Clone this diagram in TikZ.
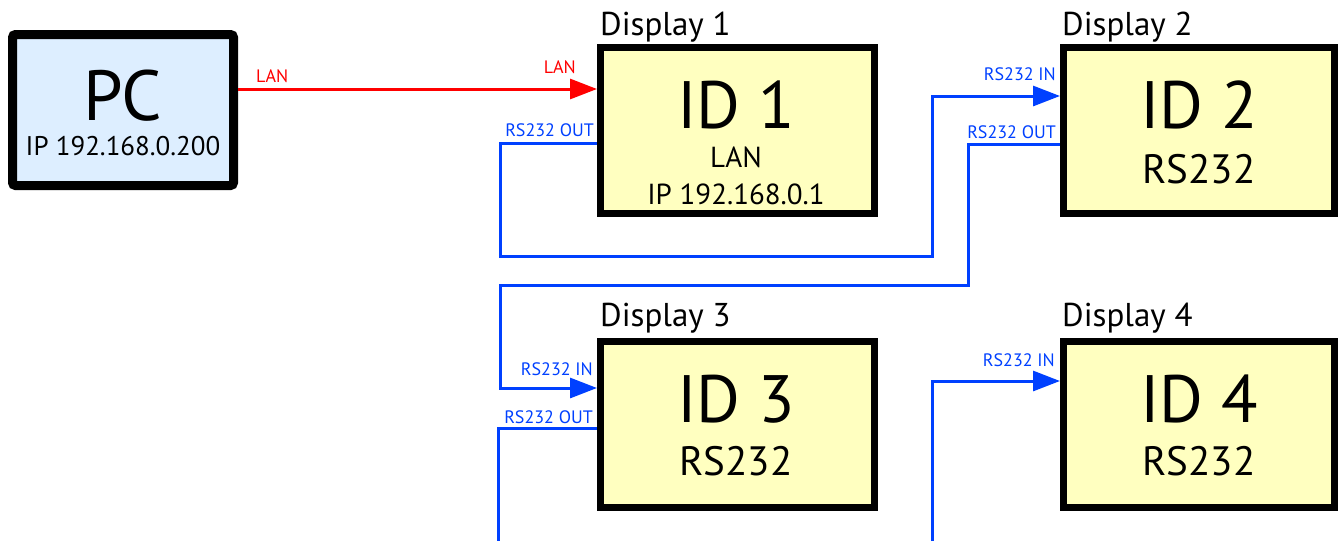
\documentclass[tikz,border=0pt]{standalone}
\usepackage{fontspec}
\setmainfont{PT Sans}
\usepackage{xcolor}
\usetikzlibrary{arrows.meta}
\definecolor{linkblue}{RGB}{0,64,255}
\definecolor{pcfill}{RGB}{221,238,255}
\definecolor{idfill}{RGB}{255,255,192}

\begin{document}
\begin{tikzpicture}[x=1pt, y=-1pt,
    pcbox/.style={draw, line width=9pt, rounded corners=3pt, fill=pcfill,
      minimum width=221pt, minimum height=151pt, inner sep=0pt, outer sep=4.5pt},
    idbox/.style={draw, line width=7pt, fill=idfill,
      minimum height=166pt, inner sep=0pt, outer sep=3.5pt},
    lanline/.style={red, line width=3pt},
    rsline/.style={linkblue, line width=3pt},
    arrowtip/.style={-{Triangle[length=27pt,width=20pt]}},
    bigtext/.style={anchor=base, inner sep=0pt, font=\fontsize{67}{67}\selectfont},
    midtext/.style={anchor=base, inner sep=0pt, font=\fontsize{41}{41}\selectfont},
    smalltext/.style={anchor=base, inner sep=0pt, font=\fontsize{29}{29}\selectfont},
    title/.style={anchor=base west, inner sep=0pt, font=\fontsize{33}{33}\selectfont},
    portlabel/.style={anchor=base east, inner sep=0pt, font=\fontsize{18}{18}\selectfont}]
  \useasboundingbox (0,0) rectangle (1340,541);

  % Boxes
  \node[pcbox] (pc) at (123,110) {};
  \node[idbox, minimum width=274pt] (id1) at (737.5,130.5) {};
  \node[idbox, minimum width=271pt] (id2) at (1199,130.5) {};
  \node[idbox, minimum width=274pt] (id3) at (737.5,424.5) {};
  \node[idbox, minimum width=271pt] (id4) at (1199,424) {};

  % Box texts
  \node[bigtext, font=\fontsize{71}{71}\selectfont] (pcname) at (123,120) {PC};
  \node[smalltext, font=\fontsize{27}{27}\selectfont] (pcip) at (123,155) {IP 192.168.0.200};
  \node[bigtext] (id1name) at (736,128) {ID 1};
  \node[smalltext] (id1mode) at (736,167) {LAN};
  \node[smalltext] (id1ip) at (736,204) {IP 192.168.0.1};
  \node[bigtext] (id2name) at (1199,128) {ID 2};
  \node[midtext] (id2mode) at (1199,183) {RS232};
  \node[bigtext] (id3name) at (736,422) {ID 3};
  \node[midtext] (id3mode) at (736,475) {RS232};
  \node[bigtext] (id4name) at (1199,422) {ID 4};
  \node[midtext] (id4mode) at (1199,475) {RS232};

  % Titles
  \node[title] (disp1) at (600,35) {Display 1};
  \node[title] (disp2) at (1062,35) {Display 2};
  \node[title] (disp3) at (600,326) {Display 3};
  \node[title] (disp4) at (1062,326) {Display 4};

  % LAN link
  \draw[lanline, arrowtip] ([yshift=21pt]pc.east) -- ([yshift=41.5pt]id1.west);
  \node[portlabel, anchor=base west, text=red] (lanout) at (256,82) {LAN};
  \node[portlabel, text=red] (lanin) at (576,73) {LAN};

  % RS232 chain
  \draw[rsline, arrowtip] ([yshift=-12.5pt]id1.west) -| (500,256) -| (932,96)
    -- ([yshift=34.5pt]id2.west);
  \draw[rsline, arrowtip] ([yshift=-13.5pt]id2.west) -| (968,285) -| (500,388)
    -- ([yshift=36.5pt]id3.west);
  \coordinate (end3) at (498,541);
  \draw[rsline] ([yshift=-3.5pt]id3.west) -| (end3);
  \coordinate (start4) at (932,541);
  \draw[rsline, arrowtip] (start4) |- ([yshift=43pt]id4.west);

  % Port labels
  \node[portlabel, text=linkblue] (out1) at (594,136) {RS232 OUT};
  \node[portlabel, text=linkblue] (in2) at (1056,80) {RS232 IN};
  \node[portlabel, text=linkblue] (out2) at (1056,138) {RS232 OUT};
  \node[portlabel, text=linkblue] (in3) at (593,375) {RS232 IN};
  \node[portlabel, text=linkblue] (out3) at (593,423) {RS232 OUT};
  \node[portlabel, text=linkblue] (in4) at (1055,366) {RS232 IN};
\end{tikzpicture}
\end{document}
